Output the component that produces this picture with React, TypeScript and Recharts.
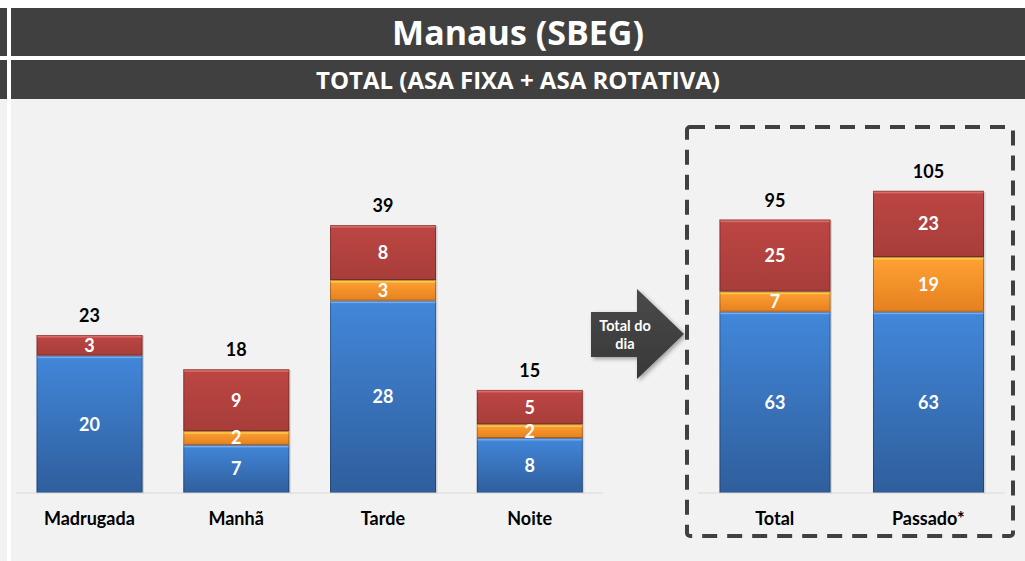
import React from 'react';
import { BarChart, Bar, XAxis, YAxis, LabelList } from 'recharts';

const periods = ['Madrugada', 'Manhã', 'Tarde', 'Noite'];
const periodBlue = [20, 7, 28, 8];
const periodOrange = [0, 2, 3, 2];
const periodRed = [3, 9, 8, 5];

const summaryCats = ['Total', 'Passado*'];
const summaryBlue = [63, 63];
const summaryOrange = [7, 19];
const summaryRed = [25, 23];

const titleText = 'Manaus (SBEG)';
const subtitleText = 'TOTAL (ASA FIXA + ASA ROTATIVA)';
const arrowLines = ['Total do', 'dia'];

const build = (cats: string[], b: number[], o: number[], r: number[]) =>
  cats.map((c, i) => ({ cat: c, blue: b[i], orange: o[i], red: r[i], total: b[i] + o[i] + r[i] }));

const periodData = build(periods, periodBlue, periodOrange, periodRed);
const summaryData = build(summaryCats, summaryBlue, summaryOrange, summaryRed);

const FONT = 'Lato, "Open Sans", sans-serif';

const makeShape = (gid: string, edge: string) => (props: any) => {
  const { x, y, width, height } = props;
  if (!height || height <= 0.5) return null;
  return (
    <g>
      <rect x={x} y={y} width={width} height={height} fill={`url(#${gid})`} />
      <rect x={x} y={y} width={width} height={Math.min(2.5, height)} fill={edge} opacity={0.85} />
      <rect x={x + 0.5} y={y + 0.5} width={width - 1} height={height - 1} fill="none" stroke="rgba(0,0,0,0.28)" strokeWidth={1} />
      <rect x={x + width} y={y + 1} width={1.5} height={height} fill="rgba(0,0,0,0.12)" />
    </g>
  );
};

const Defs = ({ p }: { p: string }) => (
  <defs>
    <linearGradient id={`${p}blue`} x1="0" y1="0" x2="0" y2="1">
      <stop offset="0%" stopColor="#4287da" />
      <stop offset="100%" stopColor="#2f5e9c" />
    </linearGradient>
    <linearGradient id={`${p}orange`} x1="0" y1="0" x2="0" y2="1">
      <stop offset="0%" stopColor="#ffa234" />
      <stop offset="100%" stopColor="#e5801f" />
    </linearGradient>
    <linearGradient id={`${p}red`} x1="0" y1="0" x2="0" y2="1">
      <stop offset="0%" stopColor="#bd4643" />
      <stop offset="100%" stopColor="#a73d3a" />
    </linearGradient>
  </defs>
);

const fmt = (v: any) => (v ? v : '');

const inLabel = {
  fill: '#ffffff',
  fontSize: 18,
  fontWeight: 700,
  fontFamily: FONT,
};

const renderChart = (data: any[], p: string, domainMax: number) => [
  <Defs key="defs" p={p} />,
  <XAxis
    key="x"
    dataKey="cat"
    axisLine={{ stroke: '#d9d9d9', strokeWidth: 1 }}
    tickLine={false}
    tickMargin={13}
    height={30}
    interval={0}
    tick={{ fill: '#000', fontSize: 18, fontWeight: 700, fontFamily: FONT }}
  />,
  <YAxis key="y" hide type="number" domain={[0, domainMax]} />,
  <Bar key="b" dataKey="blue" stackId="s" isAnimationActive={false} shape={makeShape(`${p}blue`, '#7db2f0')}>
    <LabelList dataKey="blue" position="center" formatter={fmt} {...inLabel} />
  </Bar>,
  <Bar key="o" dataKey="orange" stackId="s" isAnimationActive={false} shape={makeShape(`${p}orange`, '#ffd454')}>
    <LabelList dataKey="orange" position="center" formatter={fmt} {...inLabel} />
  </Bar>,
  <Bar key="r" dataKey="red" stackId="s" isAnimationActive={false} shape={makeShape(`${p}red`, '#e07470')}>
    <LabelList dataKey="red" position="center" formatter={fmt} {...inLabel} />
    <LabelList dataKey="total" position="top" offset={13} fill="#000" fontSize={18} fontWeight={700} fontFamily={FONT} />
  </Bar>,
];

export default function App() {
  return (
    <div
      style={{
        position: 'absolute',
        left: 0,
        top: 0,
        width: 1025,
        height: 561,
        background: '#ffffff',
        overflow: 'hidden',
        fontFamily: FONT,
      }}
    >
      <div style={{ position: 'absolute', left: 0, top: 8, width: 7, height: 48, background: '#404040' }} />
      <div style={{ position: 'absolute', left: 0, top: 60, width: 7, height: 39, background: '#404040' }} />
      <div style={{ position: 'absolute', left: 0, top: 99, width: 7, height: 462, background: '#f2f2f2' }} />
      <div
        style={{
          position: 'absolute',
          left: 11,
          top: 8,
          width: 1014,
          height: 48,
          background: '#404040',
          color: '#fff',
          fontFamily: '"Open Sans", sans-serif',
          fontWeight: 700,
          fontSize: 34,
          lineHeight: '48px',
          textAlign: 'center',
        }}
      >
        {titleText}
      </div>
      <div
        style={{
          position: 'absolute',
          left: 11,
          top: 60,
          width: 1014,
          height: 39,
          background: '#404040',
          color: '#fff',
          fontFamily: '"Open Sans", sans-serif',
          fontWeight: 700,
          fontSize: 24,
          lineHeight: '39px',
          textAlign: 'center',
        }}
      >
        {subtitleText}
      </div>
      <div style={{ position: 'absolute', left: 11, top: 99, width: 1014, height: 462, background: '#f2f2f2' }} />

      <div style={{ position: 'absolute', left: 0, top: 0 }}>
        <BarChart
          width={620}
          height={561}
          data={periodData}
          margin={{ top: 110, right: 17, bottom: 38, left: 16 }}
          barCategoryGap="14%"
        >
          {renderChart(periodData, 'l', 55.75)}
        </BarChart>
      </div>

      <div style={{ position: 'absolute', left: 640, top: 0 }}>
        <BarChart
          width={385}
          height={561}
          data={summaryData}
          margin={{ top: 110, right: 20, bottom: 38, left: 58 }}
          barCategoryGap="14%"
        >
          {renderChart(summaryData, 'r', 133.1)}
        </BarChart>
      </div>

      <svg
        width={1025}
        height={561}
        style={{ position: 'absolute', left: 0, top: 0, pointerEvents: 'none' }}
      >
        <defs>
          <filter id="ashadow" x="-20%" y="-20%" width="150%" height="150%">
            <feDropShadow dx="2" dy="2" stdDeviation="2" floodColor="#000" floodOpacity="0.35" />
          </filter>
          <linearGradient id="agrad" x1="0" y1="0" x2="0" y2="1">
            <stop offset="0%" stopColor="#4a4a4a" />
            <stop offset="100%" stopColor="#383838" />
          </linearGradient>
        </defs>
        <rect
          x={687}
          y={127}
          width={326}
          height={409}
          rx={3}
          fill="none"
          stroke="#404040"
          strokeWidth={4}
          strokeDasharray="15 10"
        />
        <polygon
          points="591,312 637,312 637,289 684,334 637,379 637,357 591,357"
          fill="url(#agrad)"
          filter="url(#ashadow)"
        />
        <text x={625} y={331} textAnchor="middle" fill="#fff" fontSize={14.5} fontWeight={700} fontFamily={FONT}>
          {arrowLines[0]}
        </text>
        <text x={625} y={349} textAnchor="middle" fill="#fff" fontSize={14.5} fontWeight={700} fontFamily={FONT}>
          {arrowLines[1]}
        </text>
      </svg>
    </div>
  );
}
